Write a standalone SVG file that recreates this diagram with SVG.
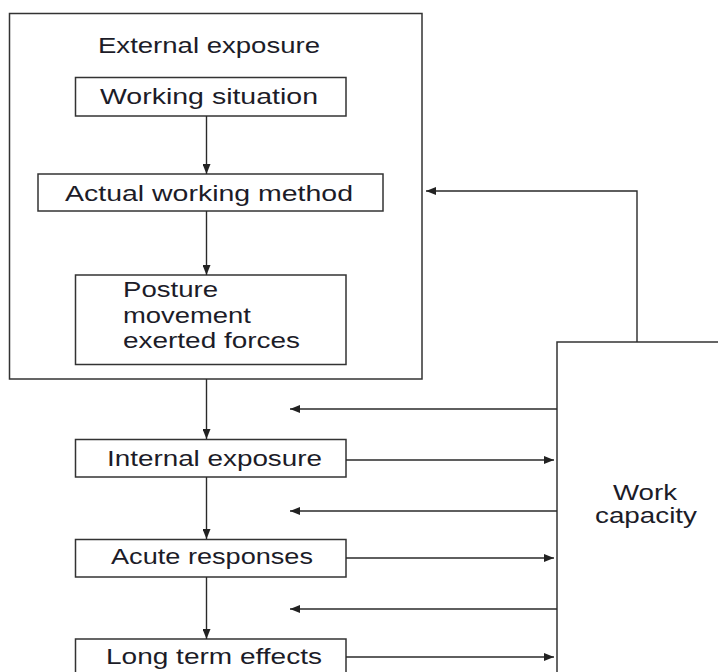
<svg xmlns="http://www.w3.org/2000/svg" width="718" height="672" viewBox="0 0 718 672">
  <defs>
    <marker id="head" viewBox="0 0 10 8" refX="10" refY="4" markerWidth="10" markerHeight="8" markerUnits="userSpaceOnUse" orient="auto">
      <path d="M0,0 L10,4 L0,8 Z" fill="#222"/>
    </marker>
    <style>
      .box { fill: #fff; stroke: #333; stroke-width: 1.5; }
      .frame { fill: none; stroke: #333; stroke-width: 1.5; }
      .lbl { font-family: "Liberation Sans", Arial, sans-serif; font-size: 22px; fill: #1c1c28; }
      .wire { fill: none; stroke: #2a2a2a; stroke-width: 1.4; }
      .arrow { fill: none; stroke: #2a2a2a; stroke-width: 1.4; marker-end: url(#head); }
    </style>
  </defs>
  <rect width="718" height="672" fill="#fff"/>

  <!-- external exposure frame -->
  <g id="external-exposure">
    <rect class="frame" x="9.5" y="13.5" width="412.5" height="365.5"/>
    <text class="lbl" x="98" y="53" textLength="222" lengthAdjust="spacingAndGlyphs">External exposure</text>
  </g>

  <g id="working-situation">
    <rect class="box" x="75.5" y="77.5" width="270.5" height="38.5"/>
    <text class="lbl" x="100" y="104" textLength="218" lengthAdjust="spacingAndGlyphs">Working situation</text>
  </g>

  <g id="actual-working-method">
    <rect class="box" x="38" y="174" width="345" height="37"/>
    <text class="lbl" x="65" y="201" textLength="288" lengthAdjust="spacingAndGlyphs">Actual working method</text>
  </g>

  <g id="posture">
    <rect class="box" x="75.5" y="275" width="270.5" height="89.5"/>
    <text class="lbl" x="123" y="297" textLength="95" lengthAdjust="spacingAndGlyphs">Posture</text>
    <text class="lbl" x="123" y="323" textLength="128" lengthAdjust="spacingAndGlyphs">movement</text>
    <text class="lbl" x="123" y="348" textLength="177" lengthAdjust="spacingAndGlyphs">exerted forces</text>
  </g>

  <g id="internal-exposure">
    <rect class="box" x="75.5" y="439.5" width="270.5" height="37.5"/>
    <text class="lbl" x="107" y="466" textLength="215" lengthAdjust="spacingAndGlyphs">Internal exposure</text>
  </g>

  <g id="acute-responses">
    <rect class="box" x="75.5" y="539.5" width="270.5" height="37.5"/>
    <text class="lbl" x="111" y="564" textLength="202" lengthAdjust="spacingAndGlyphs">Acute responses</text>
  </g>

  <g id="long-term-effects">
    <rect class="box" x="75.5" y="639" width="270.5" height="38"/>
    <text class="lbl" x="106" y="664" textLength="216" lengthAdjust="spacingAndGlyphs">Long term effects</text>
  </g>

  <g id="work-capacity">
    <rect class="box" x="557" y="342" width="200" height="360"/>
    <text class="lbl" x="613" y="500" textLength="64" lengthAdjust="spacingAndGlyphs">Work</text>
    <text class="lbl" x="595" y="523" textLength="102" lengthAdjust="spacingAndGlyphs">capacity</text>
  </g>

  <g id="connectors">
    <!-- main chain -->
    <line class="arrow" x1="206.5" y1="116" x2="206.5" y2="174"/>
    <line class="arrow" x1="206.5" y1="211" x2="206.5" y2="275"/>
    <line class="arrow" x1="206.5" y1="379" x2="206.5" y2="439"/>
    <line class="arrow" x1="206.5" y1="477" x2="206.5" y2="539"/>
    <line class="arrow" x1="206.5" y1="577" x2="206.5" y2="639"/>
    <!-- feedback from work capacity -->
    <polyline class="arrow" points="637,342 637,191 426,191"/>
    <line class="arrow" x1="557" y1="409" x2="290" y2="409"/>
    <line class="arrow" x1="557" y1="511" x2="290" y2="511"/>
    <line class="arrow" x1="557" y1="609" x2="290" y2="609"/>
    <!-- effects on work capacity -->
    <line class="arrow" x1="346" y1="460" x2="554" y2="460"/>
    <line class="arrow" x1="346" y1="558" x2="554" y2="558"/>
    <line class="arrow" x1="346" y1="657" x2="554" y2="657"/>
  </g>
</svg>
